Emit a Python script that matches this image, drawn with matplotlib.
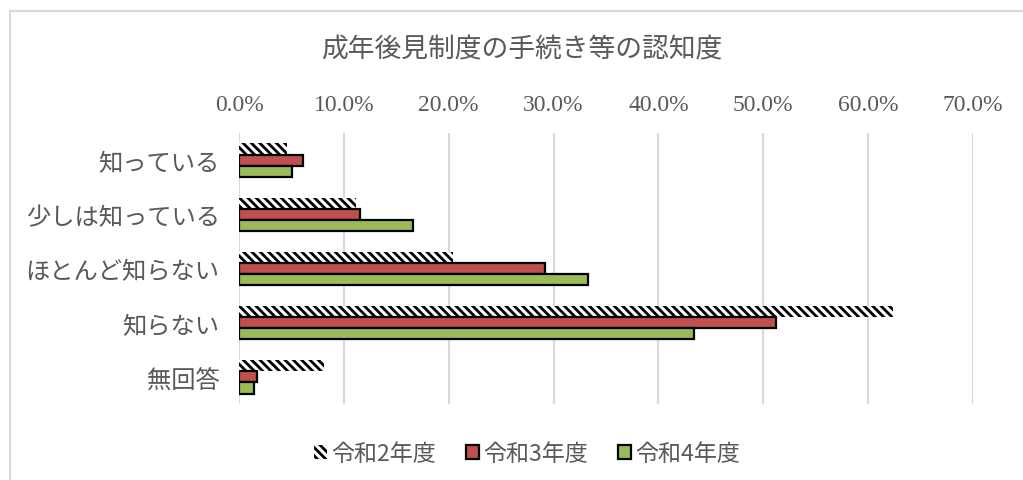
import matplotlib
matplotlib.use('Agg')
import matplotlib.pyplot as plt
from matplotlib.patches import Rectangle, Patch
import numpy as np

plt.rcParams['font.family'] = ['Noto Sans CJK JP', 'DejaVu Sans']
plt.rcParams['hatch.linewidth'] = 2.0

categories = ['知っている', '少しは知っている', 'ほとんど知らない', '知らない', '無回答']
series_names = ['令和2年度', '令和3年度', '令和4年度']
r2 = [4.6, 11.2, 20.4, 62.4, 8.1]
r3 = [6.1, 11.5, 29.2, 51.2, 1.7]
r4 = [5.1, 16.6, 33.3, 43.4, 1.4]
ticks = [0, 10, 20, 30, 40, 50, 60, 70]

W, H = 1023, 481
fig = plt.figure(figsize=(W / 100, H / 100), dpi=100)
ax = fig.add_axes([239 / W, 1 - 405 / H, (973 - 239) / W, (405 - 134) / H])

y = np.arange(len(categories))
h = 0.205
hatch = '\\\\\\\\'
ax.barh(y - h, r2, height=h, facecolor='white', edgecolor='black', linewidth=0,
        hatch=hatch, zorder=3)
ax.barh(y, r3, height=h, color='#C0504D', edgecolor='black', linewidth=1.6, zorder=3)
ax.barh(y + h, r4, height=h, color='#9BBB59', edgecolor='black', linewidth=1.6, zorder=3)

ax.set_ylim(len(categories) - 0.5, -0.5)
ax.set_xlim(0, 70)
ax.set_yticks(y)
ax.set_yticklabels(categories, fontsize=17.5, color='#595959')
ax.xaxis.tick_top()
ax.set_xticks(ticks)
ax.set_xticklabels([f'{t:.1f}%' for t in ticks], family='Liberation Serif',
                   fontsize=17, color='#595959')
ax.tick_params(length=0)
ax.tick_params(axis='x', pad=13)
ax.tick_params(axis='y', pad=14)
ax.grid(axis='x', color='#D9D9D9', linewidth=1.5, zorder=0)
for s in ax.spines.values():
    s.set_visible(False)

fig.text(522 / W, 1 - 50 / H, '成年後見制度の手続き等の認知度', ha='center', va='center',
         fontsize=19.3, color='#595959')

handles = [
    Patch(facecolor='white', edgecolor='black', linewidth=0, hatch=hatch),
    Patch(facecolor='#C0504D', edgecolor='black', linewidth=1.6),
    Patch(facecolor='#9BBB59', edgecolor='black', linewidth=1.6),
]
leg = fig.legend(handles, series_names, loc='center', bbox_to_anchor=(527 / W, 1 - 455 / H),
                 ncol=3, frameon=False, fontsize=16.6, handlelength=0.55, handleheight=0.55,
                 handletextpad=0.2, columnspacing=1.3)
for t in leg.get_texts():
    t.set_color('#595959')

fig.patches.append(Rectangle((10 / W, -0.1), 1.2, 1 - 12 / H + 0.1, transform=fig.transFigure,
                             fill=False, edgecolor='#D9D9D9', linewidth=1.5))

fig.savefig('out.png', dpi=100)
